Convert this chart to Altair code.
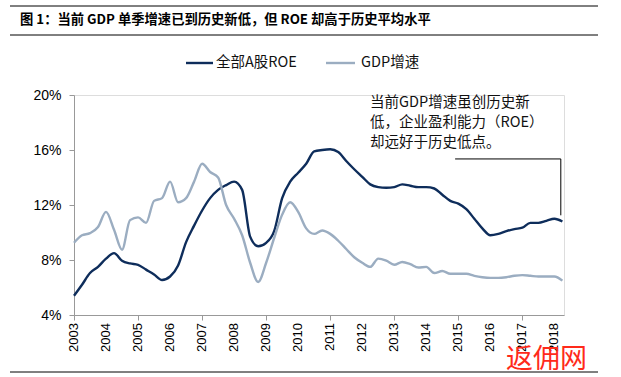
import altair as alt
import pandas as pd

# quarterly points, 2003Q1 .. 2018Q2
roe = [5.4, 6.2, 7.05, 7.5, 8.1, 8.5, 7.95, 7.75, 7.65, 7.3,
       6.95, 6.55, 6.8, 7.6, 9.3, 10.5, 11.6, 12.5, 13.1, 13.45,
       13.7, 13.1, 9.7, 9.0, 9.25, 10.1, 12.5, 13.7, 14.35, 15.0,
       15.9, 16.0, 16.05, 15.85, 15.2, 14.6, 14.05, 13.5, 13.3, 13.25,
       13.3, 13.5, 13.4, 13.3, 13.3, 13.2, 12.75, 12.3, 12.1, 11.7,
       11.0, 10.3, 9.8, 9.9, 10.1, 10.25, 10.35, 10.7, 10.7, 10.85,
       11.0, 10.8]
gdp = [9.25, 9.8, 9.95, 10.4, 11.5, 10.2, 8.75, 10.9, 11.1, 10.7,
       12.3, 12.5, 13.7, 12.2, 12.5, 13.7, 15.0, 14.4, 14.0, 12.0,
       11.0, 9.8, 7.8, 6.4, 7.8, 9.6, 11.3, 12.2, 11.5, 10.3,
       9.9, 10.15, 9.9, 9.4, 8.8, 8.2, 7.8, 7.5, 8.1, 7.95,
       7.65, 7.85, 7.7, 7.45, 7.5, 7.05, 7.2, 7.0, 7.0, 7.0,
       6.85, 6.75, 6.7, 6.7, 6.75, 6.85, 6.9, 6.85, 6.8, 6.8,
       6.8, 6.5]
times = [2003 + k * 0.25 for k in range(len(roe))]
series_names = ["全部A股ROE", "GDP增速"]
series_colors = ["#0e2d5b", "#9badc1"]
year_ticks = list(range(2003, 2019))
y_ticks = [4, 8, 12, 16, 20]

title_text = "图 1：当前 GDP 单季增速已到历史新低，但 ROE 却高于历史平均水平"
note_text = "当前GDP增速虽创历史新\n低，企业盈利能力（ROE）\n却远好于历史低点。"

# annotation connector in data coordinates
conn_x = [2014.9, 2018.2]
conn_y_top = 15.35
conn_y_bottom = 11.25

df = pd.DataFrame({
    "t": times * 2,
    "v": roe + gdp,
    "s": [series_names[0]] * len(roe) + [series_names[1]] * len(gdp),
})

W, H = 490, 220
FONT = "Liberation Sans"
CJK = "Noto Sans CJK SC"

x_scale = alt.Scale(domain=[2003, 2018.3], nice=False, zero=False)
y_scale = alt.Scale(domain=[4, 20], nice=False, zero=False)

lines = alt.Chart(df).mark_line(strokeWidth=2.4, interpolate="monotone").encode(
    x=alt.X("t:Q", scale=x_scale,
            axis=alt.Axis(values=year_ticks, labels=False, title=None,
                          grid=False, domainColor="#999999", tickColor="#999999",
                          tickSize=5)),
    y=alt.Y("v:Q", scale=y_scale,
            axis=alt.Axis(values=y_ticks, labelExpr="datum.value + '%'", title=None,
                          grid=False, domainColor="#999999", tickColor="#999999",
                          tickSize=5, labelFont=FONT, labelFontSize=14, labelColor="#000000",
                          labelPadding=8)),
    color=alt.Color("s:N", scale=alt.Scale(domain=series_names, range=series_colors), legend=None),
)

years_df = pd.DataFrame({"yr": year_ticks, "lbl": [str(y) for y in year_ticks]})
x_labels = alt.Chart(years_df).mark_text(font=FONT, fontSize=13, angle=270, align="right",
                                         baseline="middle", color="#000000").encode(
    x=alt.X("yr:Q", scale=x_scale), y=alt.value(H + 8), text="lbl:N")

conn_df = pd.DataFrame({"x1": [conn_x[0], conn_x[1]], "x2": [conn_x[1], conn_x[1]],
                        "y1": [conn_y_top, conn_y_top], "y2": [conn_y_top, conn_y_bottom]})
conn = alt.Chart(conn_df).mark_rule(color="#000000", strokeWidth=1).encode(
    x=alt.X("x1:Q", scale=x_scale), x2="x2:Q",
    y=alt.Y("y1:Q", scale=y_scale), y2="y2:Q",
)

one = pd.DataFrame({"a": [0]})

note = alt.Chart(one).mark_text(font=CJK, fontSize=14.5, align="left", baseline="middle",
                                lineBreak="\n", lineHeight=20, color="#111111").encode(
    x=alt.value(296), y=alt.value(8), text=alt.value(note_text))

title = alt.Chart(one).mark_text(font=CJK, fontSize=13.3, fontWeight="bold", align="left",
                                 baseline="middle", color="#000000").encode(
    x=alt.value(-54), y=alt.value(-75), text=alt.value(title_text))

rule_top1 = alt.Chart(one).mark_rule(color="#000000", strokeWidth=1).encode(
    x=alt.value(-64), x2=alt.value(524), y=alt.value(-89))
rule_top2 = alt.Chart(one).mark_rule(color="#000000", strokeWidth=1).encode(
    x=alt.value(-64), x2=alt.value(524), y=alt.value(-60))
rule_bot = alt.Chart(one).mark_rule(color="#000000", strokeWidth=1).encode(
    x=alt.value(-64), x2=alt.value(524), y=alt.value(277))

leg_df = pd.DataFrame({"name": series_names, "lx1": [112, 252], "lx2": [139, 281], "tx": [142, 287]})
leg_lines = alt.Chart(leg_df).mark_rule(strokeWidth=2.4).encode(
    x=alt.X("lx1:Q", scale=None), x2="lx2:Q", y=alt.value(-32),
    color=alt.Color("name:N", scale=alt.Scale(domain=series_names, range=series_colors), legend=None))
leg_text = alt.Chart(leg_df).mark_text(font=CJK, fontSize=14.5, align="left", baseline="middle",
                                       color="#111111").encode(
    x=alt.X("tx:Q", scale=None), y=alt.value(-32), text="name:N")

watermark = alt.Chart(one).mark_text(font=CJK, fontSize=27, align="left", baseline="middle",
                                     color="#ff2a1a").encode(
    x=alt.value(432), y=alt.value(265), text=alt.value("返佣网"))

chart = alt.layer(lines, x_labels, conn, note, title, rule_top1, rule_top2, rule_bot,
                  leg_lines, leg_text, watermark).resolve_scale(color="independent").properties(
    width=W, height=H, autosize=alt.AutoSizeParams(type="none"),
    padding={"left": 74, "top": 95, "right": 57, "bottom": 62},
).configure_view(stroke=None).configure(background="#ffffff")

chart.save("out.html", embed_options={"renderer": "svg", "actions": False})
